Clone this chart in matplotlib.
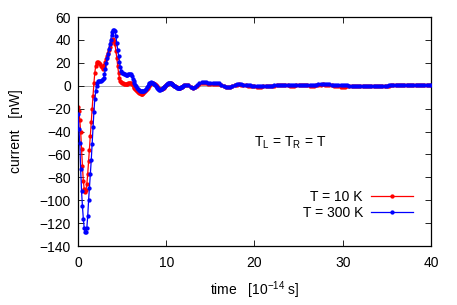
import numpy as np
import matplotlib
matplotlib.use('Agg')
import matplotlib.pyplot as plt

plt.rcParams['font.family'] = ['Liberation Sans', 'DejaVu Sans']
plt.rcParams['mathtext.fontset'] = 'custom'
plt.rcParams['mathtext.rm'] = 'Liberation Sans'
plt.rcParams['mathtext.it'] = 'Liberation Sans'

# current [nW], early part sampled every 0.1 (t = 0 .. 11.9)
red_early = [
    -19, -22, -30, -40, -55, -70, -83, -90, -93, -91,
    -86, -77, -66, -56, -44, -32, -20, -9, 2, 11,
    17, 20, 21, 21, 20, 19, 17, 16, 15, 16,
    18, 21, 23, 26, 29, 31, 34, 37, 39, 40,
    41, 39, 36, 30, 24, 17, 11, 7, 4, 3,
    2, 2, 1.5, 1.5, 1.7, 1.8, 1.8, 2, 2.2, 2.3,
    2, 1.2, 0.3, -0.8, -1.8, -2.5, -3.5, -4.5, -5.5, -6.2,
    -6.6, -7, -7, -6.8, -6.3, -5.6, -5, -4, -3, -1.8,
    -0.6, 0.5, 1.4, 2, 2.3, 2.2, 1.8, 1.3, 0.7, 0,
    -1, -2, -2.8, -3, -3, -2.7, -2.2, -1.6, -0.9, -0.2,
    0.6, 1.3, 1.8, 2.2, 2.3, 2.2, 1.8, 1.3, 0.7, 0.1,
    -0.5, -1, -1.5, -1.8, -2, -2, -1.8, -1.4, -0.9, -0.4,
]
blue_early = [
    -25, -38, -50, -73, -92, -105, -116, -124, -128, -128,
    -124, -114, -100, -89, -77, -65, -51, -36, -23, -12,
    -5, 0, 2.5, 3.8, 4.3, 4.3, 4.3, 4.8, 5.5, 7,
    10, 15, 20, 24, 28, 32, 36, 40, 44, 47,
    48.5, 49, 47.5, 43, 37, 31, 26, 21, 16, 13,
    11.5, 10.8, 10.4, 10, 9.7, 9.6, 9.6, 9.8, 10.2, 10.4,
    9.8, 8.2, 6.3, 4.5, 2.7, 1, -0.5, -1.8, -2.8, -3.5,
    -4.2, -4.7, -5, -5, -4.8, -4.3, -3.5, -2.5, -1.3, 0,
    1.2, 2, 2.6, 2.9, 2.8, 2.4, 1.7, 0.8, 0, -1,
    -2, -3, -3.5, -3.4, -3, -2.5, -2, -1.5, -0.8, 0,
    0.8, 1.5, 2, 2.3, 2.4, 2.2, 1.8, 1.2, 0.6, 0,
    -0.5, -1, -1.6, -2, -2.1, -2, -1.7, -1.3, -0.8, -0.3,
]

# late part sampled every 0.25 (t = 12 .. 40)
red_late = [
    0.2, 0.8, 0.3, -1.2, -1.8, -1.2, 0, 1.5, 2.3, 2.5,
    2.2, 1.8, 1.6, 1.7, 1.9, 1.8, 1.3, 0.5, -0.5, -1.2,
    -1.5, -1.2, -0.5, 0.3, 0.9, 1.2, 1.0, 0.6, 0.2, 0,
    -0.2, -0.4, -0.6, -0.8, -0.8, -0.7, -0.5, -0.3, -0.2, -0.1,
    0, 0.1, 0.2, 0.3, 0.3, 0.4, 0.4, 0.3, 0.1, 0,
    0.1, 0.3, 0.5, 0.6, 0.6, 0.4, 0.2, 0, -0.1, 0.1,
    0.5, 0.8, 1.0, 1.1, 1.0, 0.8, 0.5, 0.2, -0.1, -0.4,
    -0.6, -0.8, -0.8, -0.7, -0.6, -0.5, -0.4, -0.3, -0.3, -0.3,
    -0.3, -0.3, -0.3, -0.2, -0.1, 0, 0, 0, 0, 0,
    0, 0, 0, 0.1, 0.2, 0.3, 0.3, 0.3, 0.3, 0.4,
    0.4, 0.5, 0.5, 0.4, 0.4, 0.4, 0.4, 0.5, 0.5, 0.5,
    0.5, 0.5, 0.5,
]
blue_late = [
    0.2, 1.0, 0.2, -1.5, -2, -1.2, 0.3, 2, 3, 3.3,
    3, 2.5, 2.3, 2.4, 2.6, 2.5, 2, 1, -0.2, -1,
    -1.3, -1, -0.3, 0.5, 1.2, 1.5, 1.3, 0.9, 0.5, 0.3,
    0.2, 0, -0.3, -0.5, -0.6, -0.5, -0.3, -0.1, 0, 0,
    0.1, 0.2, 0.3, 0.4, 0.5, 0.6, 0.6, 0.5, 0.3, 0.2,
    0.3, 0.5, 0.7, 0.9, 0.9, 0.7, 0.5, 0.3, 0.2, 0.4,
    0.8, 1.2, 1.4, 1.5, 1.5, 1.3, 1.1, 0.9, 0.8, 0.7,
    0.6, 0.6, 0.6, 0.5, 0.3, 0.1, 0, -0.1, -0.2, -0.3,
    -0.3, -0.3, -0.3, -0.2, -0.1, 0, 0, 0, 0, 0.1,
    0, 0, 0.1, 0.2, 0.3, 0.4, 0.5, 0.5, 0.5, 0.5,
    0.6, 0.7, 0.7, 0.6, 0.5, 0.5, 0.5, 0.6, 0.7, 0.7,
    0.6, 0.6, 0.6,
]

labels = ['T = 10 K', 'T = 300 K']
xticks = [0, 10, 20, 30, 40]
yticks = list(range(-140, 61, 20))

t_early = np.arange(len(blue_early)) * 0.1
t_late = 12 + np.arange(len(blue_late)) * 0.25
t = np.concatenate([t_early, t_late])
red = np.concatenate([red_early, red_late])
blue = np.concatenate([blue_early, blue_late])

fig = plt.figure(figsize=(4.57, 3.05), dpi=100)
ax = fig.add_axes([0.1707, 0.1934, 0.7723, 0.7508])

ax.axhline(0, color='#a0a0a0', lw=0.6, zorder=1)
ax.plot(t, red, color='#ff0000', lw=0.9, marker='o', ms=3.1, mew=0, label=labels[0], zorder=2)
ax.plot(t, blue, color='#0000ff', lw=0.9, marker='o', ms=3.1, mew=0, label=labels[1], zorder=3)

ax.set_xlim(0, 40)
ax.set_ylim(-140, 60)
ax.set_xticks(xticks)
ax.set_yticks(yticks)
ax.tick_params(direction='in', length=4, width=0.6, top=True, right=True, labelsize=10)
ax.tick_params(axis='x', pad=7)
ax.tick_params(axis='y', pad=5)
for s in ax.spines.values():
    s.set_linewidth(0.9)

ax.set_xlabel(r'time   [10$^{\mathregular{-14}}$ s]', fontsize=10, labelpad=7)
ax.set_ylabel('current   [nW]', fontsize=10, labelpad=12)

ax.text(19.9, -50, r'T$_\mathregular{L}$ = T$_\mathregular{R}$ = T', fontsize=10, va='center', ha='left')

ax.legend(loc='lower right', bbox_to_anchor=(0.949, 0.115), frameon=False, markerfirst=False,
          numpoints=1, handlelength=3.0, handletextpad=0.6, labelspacing=0.1,
          borderpad=0, borderaxespad=0, fontsize=10)

fig.savefig('out.png', dpi=100)
